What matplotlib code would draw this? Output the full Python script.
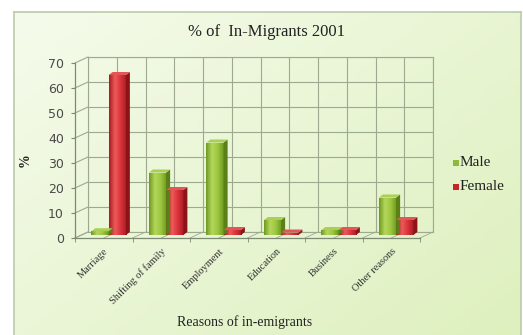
import numpy as np
import matplotlib
matplotlib.use("Agg")
import matplotlib.pyplot as plt
from matplotlib.patches import Polygon, Rectangle
from matplotlib.lines import Line2D
from matplotlib.colors import LinearSegmentedColormap

# data
categories = ["Marriage", "Shifting of family", "Employment", "Education",
              "Business", "Other reasons"]
male = [1.5, 25, 37, 6, 2, 15]
female = [64, 18, 2, 1, 2, 6]
yticks = [0, 10, 20, 30, 40, 50, 60, 70]

W, H = 523, 335
fig = plt.figure(figsize=(W / 100, H / 100), dpi=100)
fig.patch.set_facecolor("white")


def fbox(x0, y0, x1, y1):
    # pixel box (top-left origin) -> figure fraction rect
    return [x0 / W, (H - y1) / H, (x1 - x0) / W, (y1 - y0) / H]


# chart area background with soft gradient
bg = fig.add_axes(fbox(14, 12, 521, 336), zorder=-10)
gx, gy = np.meshgrid(np.linspace(0, 1, 80), np.linspace(0, 1, 80))
t = np.clip(0.55 * gx + 0.45 * gy, 0, 1)[..., None]
c0 = np.array([245, 251, 235]) / 255
c1 = np.array([222, 240, 190]) / 255
bg.imshow(c0 * (1 - t) + c1 * t, aspect="auto", extent=[0, 1, 0, 1], origin="upper")
bg.set_xticks([]); bg.set_yticks([])
for s in bg.spines.values():
    s.set_color("#bccbab"); s.set_linewidth(1.2)

grid_c = "#9daa90"
ymax = 70

# back wall (offset up/right)
back = fig.add_axes(fbox(88, 57, 433, 232), zorder=1)
back.patch.set_alpha(0)
back.set_xlim(0, 6); back.set_ylim(0, ymax)
back.set_xticks(np.arange(0, 6.01, 0.5)); back.set_yticks(yticks)
back.grid(True, color=grid_c, lw=0.8)
back.tick_params(length=0, labelleft=False, labelbottom=False)
for s in back.spines.values():
    s.set_color(grid_c); s.set_linewidth(0.8)

# front axes holds labels
ax = fig.add_axes(fbox(75, 63, 420, 238), zorder=2)
ax.patch.set_alpha(0)
ax.set_xlim(0, 6); ax.set_ylim(0, ymax)
for k in ["top", "right"]:
    ax.spines[k].set_visible(False)
ax.spines["left"].set_color("#7d8a72"); ax.spines["bottom"].set_color("#7d8a72")
ax.spines["left"].set_linewidth(0.9); ax.spines["bottom"].set_linewidth(0.9)
ax.set_yticks(yticks)
ax.set_yticklabels([str(v) for v in yticks], fontsize=9, color="#4a4a4a",
                   family="DejaVu Sans")
ax.tick_params(axis="y", length=3, color="#7d8a72", pad=5)
ax.set_xticks(np.arange(6) + 0.5)
ax.set_xticklabels(categories, rotation=45, ha="right", rotation_mode="anchor",
                   fontsize=7.5, family="Liberation Serif", color="#333333")
ax.set_xticks(np.arange(0, 6.01, 1), minor=True)
ax.tick_params(axis="x", which="major", length=0, pad=6)
ax.tick_params(axis="x", which="minor", length=3, color="#7d8a72")

# connect front and back (side wall + floor)
inv = fig.transFigure.inverted()


def link(x, y, **kw):
    a = ax.transData.transform((x, y))
    b = back.transData.transform((x, y))
    p = inv.transform([a, b])
    fig.add_artist(Line2D(p[:, 0], p[:, 1], transform=fig.transFigure, **kw))


for v in yticks:
    link(0, v, color=grid_c, lw=0.8)
for xv in np.arange(0, 6.01, 0.5):
    link(xv, 0, color=grid_c, lw=0.6)

# bars sit in a middle layer
mid = fig.add_axes(fbox(81, 60, 426, 235), zorder=3)
mid.patch.set_alpha(0)
mid.set_xlim(0, 6); mid.set_ylim(0, ymax)
mid.axis("off")

bw = 0.3
dx, dy = 0.07, 1.2
x = np.arange(6) + 0.5
styles = [
    (male, x - bw / 2 - 0.02, ["#6f9a22", "#b4d75c", "#9cc63e", "#6e981f"], "#5a8018", "#a9cf55"),
    (female, x + bw / 2 - 0.02, ["#a81c22", "#ee5a5a", "#d8323a", "#a81c22"], "#8c1419", "#e25656"),
]
for vals, xs, grad, side_c, top_c in styles:
    cmap = LinearSegmentedColormap.from_list("g", grad)
    bars = mid.bar(xs, vals, bw, color=grad[2], lw=0, zorder=3)
    for b, v in zip(bars, vals):
        x0 = b.get_x(); x1 = x0 + bw
        im = mid.imshow(np.linspace(0, 1, 50)[None, :], cmap=cmap, aspect="auto",
                        extent=[x0, x1, 0, v], zorder=3)
        im.set_clip_path(b)
        mid.add_patch(Polygon([[x1, 0], [x1, v], [x1 + dx, v + dy], [x1 + dx, dy]],
                              closed=True, fc=side_c, lw=0, zorder=4))
        mid.add_patch(Polygon([[x0, v], [x1, v], [x1 + dx, v + dy], [x0 + dx, v + dy]],
                              closed=True, fc=top_c, lw=0, zorder=4))
    mid.set_xlim(0, 6); mid.set_ylim(0, ymax)

# text
fig.text(266 / W, 1 - 32 / H, "% of  In-Migrants 2001", ha="center", va="center",
         fontsize=12, family="Liberation Serif", color="#222222")
fig.text(25 / W, 1 - 160 / H, "%", ha="center", va="center", rotation=90,
         fontsize=10, family="Liberation Serif", color="#222222", weight="bold")
fig.text(245 / W, 1 - 322 / H, "Reasons of in-emigrants", ha="center", va="center",
         fontsize=10, family="Liberation Serif", color="#222222")

# legend
for label, col, yy in [("Male", "#8dba3a", 163), ("Female", "#c8242c", 187)]:
    fig.add_artist(Rectangle((453 / W, 1 - (yy + 3) / H), 6 / W, 6 / H,
                             transform=fig.transFigure, fc=col, ec="none"))
    fig.text(460 / W, 1 - yy / H, label, ha="left", va="center", fontsize=11,
             family="Liberation Serif", color="#222222")

fig.savefig("out.png", dpi=100)
